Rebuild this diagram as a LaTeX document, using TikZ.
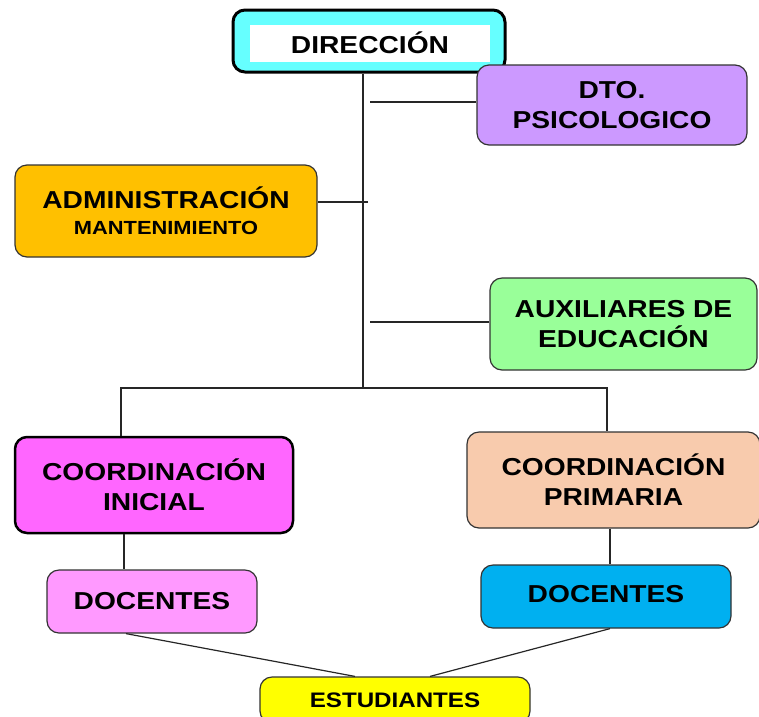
\documentclass[tikz,border=0pt]{standalone}
\usepackage{fontspec}
\setmainfont{Liberation Sans}[FakeStretch=1.15]
\usepackage{tikz}
\usetikzlibrary{positioning}
\definecolor{cdir}{HTML}{66FFFF}
\definecolor{cdto}{HTML}{CC99FF}
\definecolor{cadm}{HTML}{FFC000}
\definecolor{caux}{HTML}{99FF99}
\definecolor{cini}{HTML}{FF66FF}
\definecolor{cpri}{HTML}{F8CBAD}
\definecolor{cdocl}{HTML}{FF99FF}
\definecolor{cdocr}{HTML}{00B0F0}
\definecolor{cest}{HTML}{FFFF00}
\tikzstyle{box} = [rectangle, rounded corners=12pt, draw=black!80, line width=1.2pt, align=center, inner sep=0pt, font=\fontsize{24.5}{30}\selectfont\bfseries]
\tikzstyle{line} = [line width=1.2pt, draw=black!85]

\begin{document}
\begin{tikzpicture}[x=1pt,y=-1pt]
            \useasboundingbox (0,0) rectangle (759,716);
            \clip (0,0) rectangle (759,716);
            \node[box, fill=cdir, draw=black, line width=3pt, minimum width=272pt, minimum height=62pt] (dir) at (369,41) {};
            \node[box, fill=white, draw=none, rounded corners=0pt, minimum width=240pt, minimum height=37pt] (dir-in) at (370,43) {DIRECCIÓN};
            \node[box, fill=cdto, minimum width=270pt, minimum height=80pt] (dto) at (612,105) {DTO.\\PSICOLOGICO};
            \node[box, fill=cadm, minimum width=302pt, minimum height=92pt] (adm) at (166,211) {ADMINISTRACIÓN\\[-4pt]{\fontsize{19}{22}\selectfont MANTENIMIENTO}};
            \node[box, fill=caux, minimum width=267pt, minimum height=92pt] (aux) at (623.5,324) {AUXILIARES DE\\EDUCACIÓN};
            \node[box, fill=cini, draw=black, line width=2.5pt, minimum width=278pt, minimum height=96pt] (ini) at (154,485) {COORDINACIÓN\\INICIAL};
            \node[box, fill=cpri, minimum width=293pt, minimum height=96pt] (pri) at (613.5,480) {COORDINACIÓN\\PRIMARIA};
            \node[box, fill=cdocl, minimum width=210pt, minimum height=63pt] (doc-left) at (152,601.5) {DOCENTES};
            \node[box, fill=cdocr, minimum width=250pt, minimum height=63pt] (doc-right) at (606,596.5) {\raisebox{5pt}{DOCENTES}};
            \node[box, fill=cest, minimum width=270pt, minimum height=46pt, font=\fontsize{21}{25}\selectfont\bfseries] (est) at (395,700) {ESTUDIANTES};

            \coordinate (bus-mid) at (363,388);
            \coordinate (bus-left) at (121,388);
            \coordinate (bus-right) at (607,388);
            \coordinate (dto-j) at (370,102);
            \coordinate (adm-j) at (368,202);
            \coordinate (aux-j) at (370,322);

            \draw[line] (dir.south -| bus-mid) -- (bus-mid);
            \draw[line] (dto-j) -- (dto-j -| dto.west);
            \draw[line] (adm-j) -- (adm-j -| adm.east);
            \draw[line] (aux-j) -- (aux-j -| aux.west);
            \draw[line] (bus-left |- ini.north) -- (bus-left) -- (bus-right) -- (bus-right |- pri.north);
            \draw[line] ([xshift=-30pt]ini.south) -- ([xshift=-28pt]doc-left.north);
            \draw[line] ([xshift=-3.5pt]pri.south) -- ([xshift=4pt]doc-right.north);
            \draw[line] ([xshift=-26pt]doc-left.south) -- ([xshift=-40pt]est.north);
            \draw[line] ([xshift=4pt]doc-right.south) -- ([xshift=35pt]est.north);
        \end{tikzpicture}
\end{document}
